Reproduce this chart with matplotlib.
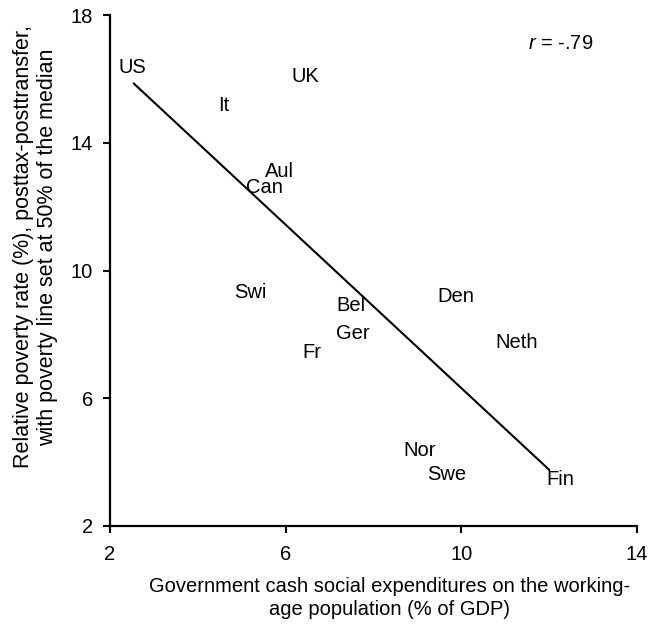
import matplotlib
matplotlib.use("Agg")
import matplotlib.pyplot as plt

plt.rcParams['font.family'] = ['Liberation Sans', 'DejaVu Sans']
plt.rcParams['mathtext.fontset'] = 'custom'
plt.rcParams['mathtext.it'] = 'Liberation Sans:italic'
plt.rcParams['mathtext.rm'] = 'Liberation Sans'

countries = ["US", "It", "UK", "Aul", "Can", "Swi", "Bel", "Den", "Ger", "Fr",
             "Neth", "Nor", "Swe", "Fin"]
spending = [2.52, 4.60, 6.46, 5.86, 5.52, 5.19, 7.48, 9.88, 7.53, 6.59,
            11.26, 9.06, 9.67, 12.25]
poverty = [16.37, 15.16, 16.07, 13.10, 12.60, 9.31, 8.91, 9.20, 8.02, 7.42,
           7.73, 4.35, 3.61, 3.45]
fit_x = [2.53, 12.02]
fit_y = [15.88, 3.73]
xticks = [2, 6, 10, 14]
yticks = [2, 6, 10, 14, 18]

FS = 14.5

fig = plt.figure(figsize=(6.5, 6.35), dpi=100)
ax = fig.add_axes([0.169, 0.172, 0.811, 0.804])

for name, x, y in zip(countries, spending, poverty):
    ax.text(x, y, name, ha='center', va='center', fontsize=FS, color='black')

ax.plot(fit_x, fit_y, color='black', lw=1.5, solid_capstyle='butt')

ax.text(12.27, 17.1, r'$r$ = -.79', ha='center', va='center', fontsize=FS)

ax.set_xlim(2, 14)
ax.set_ylim(2, 18)
ax.set_xticks(xticks)
ax.set_yticks(yticks)
ax.tick_params(direction='out', length=5, width=1.5, labelsize=FS, pad=7)
ax.tick_params(axis='x', pad=9)
for s in ['top', 'right']:
    ax.spines[s].set_visible(False)
for s in ['left', 'bottom']:
    ax.spines[s].set_linewidth(1.6)

ax.set_xlabel("Government cash social expenditures on the working-\nage population (% of GDP)",
              fontsize=FS, linespacing=1.25)
ax.xaxis.set_label_coords(0.531, -0.101)
ax.set_ylabel("Relative poverty rate (%), posttax-posttransfer,\nwith poverty line set at 50% of the median",
              fontsize=15.5, linespacing=1.2)
ax.yaxis.set_label_coords(-0.098, 0.546)

fig.savefig("out.png", dpi=100)
